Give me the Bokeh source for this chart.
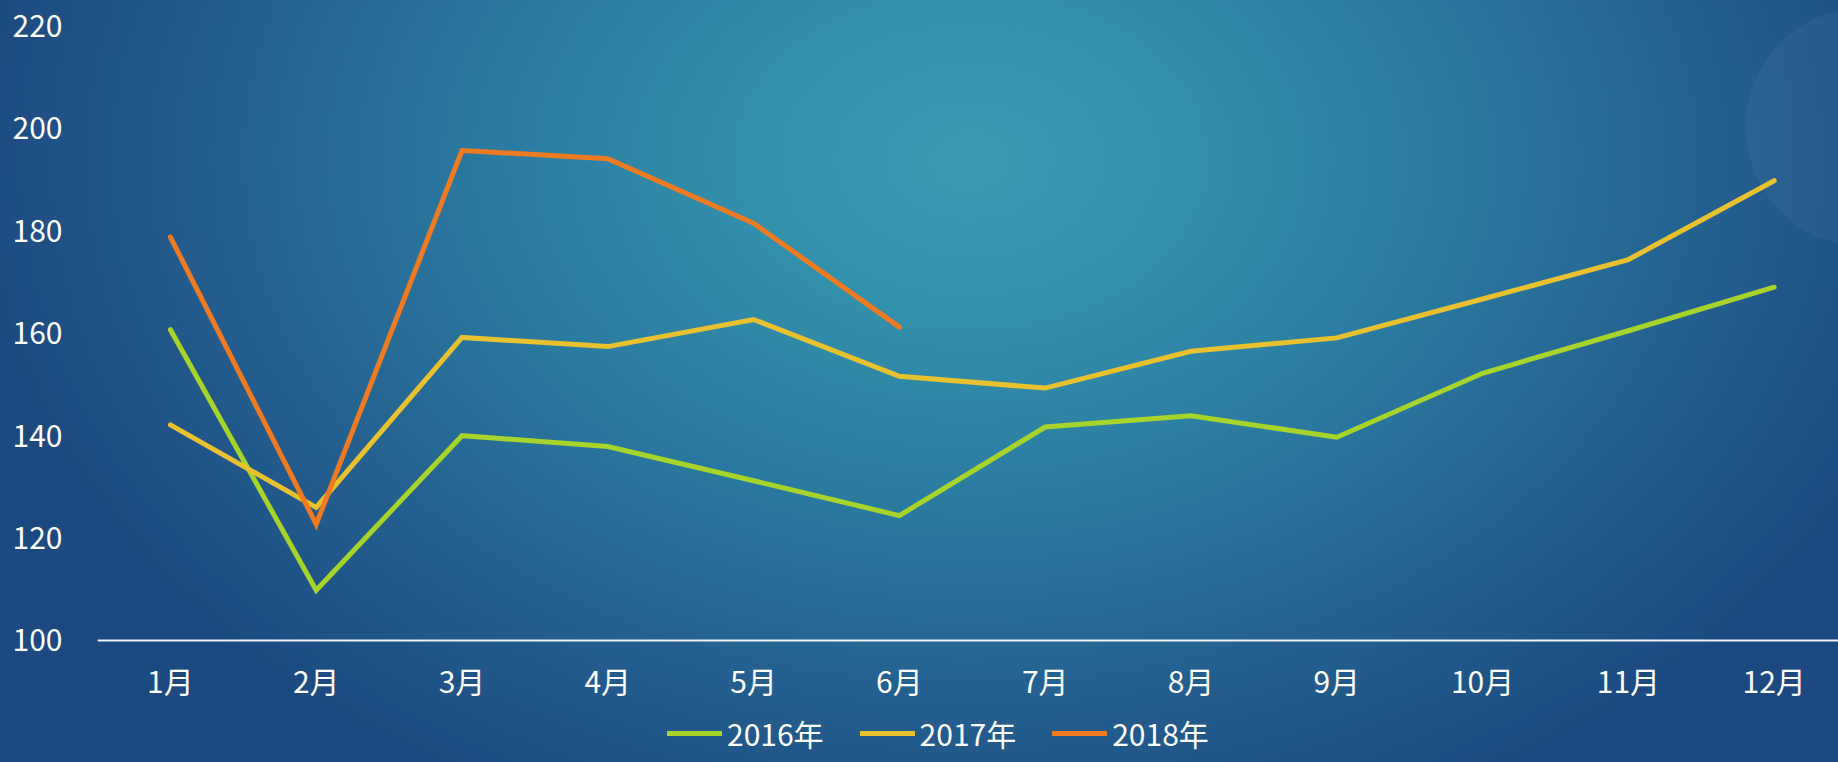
from bokeh.plotting import figure
from bokeh.models import Range1d, FixedTicker, Legend, LegendItem, ColumnDataSource
from bokeh.embed import file_html
from bokeh.resources import INLINE

# ---- data ----
months = ["1月", "2月", "3月", "4月", "5月", "6月", "7月", "8月", "9月", "10月", "11月", "12月"]
month_index = [1, 2, 3, 4, 5, 6, 7, 8, 9, 10, 11, 12]
sales_2016 = [160.7, 109.8, 140.0, 137.9, 131.2, 124.4, 141.7, 143.9, 139.7, 152.2, 160.5, 169.0]
sales_2017 = [142.1, 126.0, 159.2, 157.4, 162.7, 151.6, 149.3, 156.5, 159.1, 166.7, 174.4, 189.8]
sales_2018 = [178.8, 122.7, 195.7, 194.1, 181.5, 161.2]
series_names = ["2016年", "2017年", "2018年"]
y_ticks = [100, 120, 140, 160, 180, 200, 220]
y_base = 100

colors = ["#A8D32B", "#E8C12F", "#EE7A22"]
FONT = "Noto Sans CJK SC"

p = figure(width=1838, height=762, output_backend="svg", toolbar_location=None,
           x_range=Range1d(0.5, 12.441), y_range=Range1d(76.17, 225.0),
           min_border_left=97, min_border_right=0, min_border_top=0, min_border_bottom=0)

p.background_fill_alpha = 0
p.border_fill_alpha = 0
p.outline_line_color = None
p.grid.visible = False
p.styles = {
    "background": (
        "radial-gradient(circle 120px at 1865px 127px, rgba(255,255,255,0.035) 99%, rgba(255,255,255,0) 100%), "
        "radial-gradient(ellipse 1000px 720px at 970px 160px, #3a9bb2 0%, #3390ab 22%, #2b7aa0 48%, #245f8f 75%, #1c4a80 100%)"
    ),
}

renderers = []
for vals, col in zip([sales_2016, sales_2017, sales_2018], colors):
    src = ColumnDataSource(dict(x=month_index[:len(vals)], y=vals))
    r = p.line("x", "y", source=src, line_color=col, line_width=5, line_cap="round", line_join="miter")
    renderers.append(r)

# x axis, drawn at y = 100 inside the frame
p.xaxis.fixed_location = y_base
p.xaxis.ticker = FixedTicker(ticks=month_index)
p.xaxis.major_label_overrides = {i: m for i, m in zip(month_index, months)}
p.xaxis.axis_line_color = "#f2f2f2"
p.xaxis.axis_line_width = 2
p.xaxis.major_tick_line_color = None
p.xaxis.minor_tick_line_color = None
p.xaxis.major_label_standoff = 12
p.xaxis.major_label_text_color = "white"
p.xaxis.major_label_text_font = FONT
p.xaxis.major_label_text_font_size = "30px"

# y axis
p.yaxis.ticker = FixedTicker(ticks=y_ticks)
p.yaxis.axis_line_color = None
p.yaxis.major_tick_line_color = None
p.yaxis.minor_tick_line_color = None
p.yaxis.major_label_standoff = 29
p.yaxis.major_label_text_color = "white"
p.yaxis.major_label_text_font = FONT
p.yaxis.major_label_text_font_size = "30px"

legend = Legend(
    items=[LegendItem(label=n, renderers=[r]) for n, r in zip(series_names, renderers)],
    location=(570, 7), orientation="horizontal",
    glyph_width=55, glyph_height=30, label_standoff=5, spacing=36,
    padding=0, margin=0, background_fill_alpha=0, border_line_color=None,
    label_text_color="white", label_text_font=FONT, label_text_font_size="30px",
)
p.add_layout(legend, "center")

open("out.html", "w").write(file_html(p, INLINE))
